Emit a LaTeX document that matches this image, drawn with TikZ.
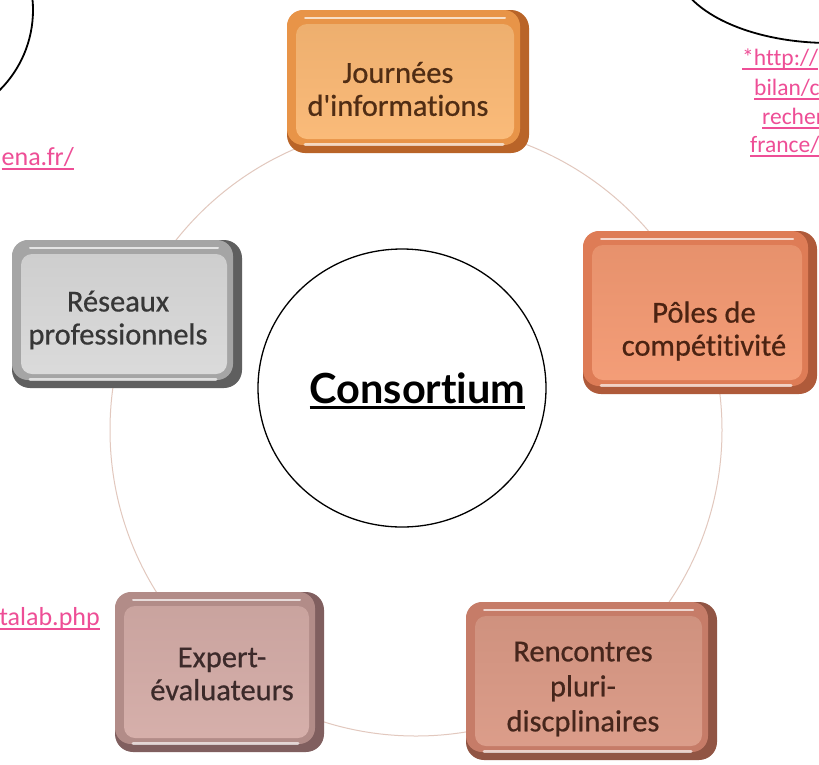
\documentclass[tikz,border=0pt]{standalone}
\usepackage{fontspec}
\setmainfont{Carlito}[Ligatures=NoCommon]
\newfontfamily\boxfont{Carlito}[Ligatures=NoCommon, FakeBold=0.6]
\newfontfamily\consfont{Lato}[Ligatures=NoCommon]
\usetikzlibrary{calc,fit,shapes.geometric}

\definecolor{linkc}{RGB}{238,78,150}
\definecolor{ringc}{RGB}{226,200,190}
% Journées
\definecolor{joudk}{RGB}{185,100,40}
\definecolor{joumd}{RGB}{232,148,72}
\definecolor{joufc}{RGB}{250,184,116}
\definecolor{joutx}{RGB}{80,45,20}
% Pôles
\definecolor{poldk}{RGB}{175,90,58}
\definecolor{polmd}{RGB}{222,124,86}
\definecolor{polfc}{RGB}{243,153,114}
\definecolor{poltx}{RGB}{75,35,18}
% Rencontres
\definecolor{rendk}{RGB}{145,85,68}
\definecolor{renmd}{RGB}{198,124,104}
\definecolor{renfc}{RGB}{218,153,133}
\definecolor{rentx}{RGB}{70,38,28}
% Expert
\definecolor{expdk}{RGB}{128,95,95}
\definecolor{expmd}{RGB}{178,140,136}
\definecolor{expfc}{RGB}{212,172,167}
\definecolor{exptx}{RGB}{60,42,42}
% Réseaux
\definecolor{resdk}{RGB}{95,95,95}
\definecolor{resmd}{RGB}{165,165,165}
\definecolor{resfc}{RGB}{217,217,217}
\definecolor{restx}{RGB}{55,55,55}

\newcommand\lnk[1]{\setbox0=\hbox{#1}\rlap{\rule[-4.5pt]{\wd0}{1.5pt}}\box0}
\newcommand\ulbig[1]{\setbox0=\hbox{#1}\rlap{\rule[-5.8pt]{\wd0}{2.7pt}}\box0}

\newcommand\bevelbox[6]{%
  \node[fit={(#2,#3) (#4,#5)}, inner sep=0pt, outer sep=0pt, rounded corners=18pt, fill=#6dk] (#1) {};
  \fill[#6md, rounded corners=16pt] (#1.north west) rectangle ($(#1.south east)+(-9,-8)$);
  \shade[top color=#6fc!95!black, bottom color=#6fc!96!white, rounded corners=11pt]
     ($(#1.north west)+(9,14)$) rectangle ($(#1.south east)+(-15,-14)$);
  \draw[white, opacity=.7, line width=2pt, line cap=round]
     ($(#1.north west)+(18,8)$) -- ($(#1.north east)+(-24,8)$);
  \draw[white, opacity=.65, line width=3pt, line cap=round]
     ($(#1.south west)+(18,-9)$) -- ($(#1.south east)+(-26,-9)$);
}

\tikzset{
  boxtxt/.style={font=\boxfont\fontsize{30.5}{33}\selectfont, align=center, inner sep=0pt},
  linktxt/.style={text=linkc, font=\fontsize{26}{29}\selectfont, inner sep=0pt, anchor=base west},
  linksmall/.style={linktxt, font=\fontsize{23.5}{29}\selectfont},
  ring/.style={draw=ringc, line width=1pt},
  outline/.style={draw=black, line width=1.8pt},
}

\begin{document}
\begin{tikzpicture}[x=1pt,y=-1pt]
\useasboundingbox (0,0) rectangle (819,764);
\clip (0,0) rectangle (819,764);
\fill[white] (0,0) rectangle (819,764);

% partial shapes at the corners
\draw[outline] (-80,10) circle[radius=113];
\draw[outline] (830,-37) ellipse[x radius=155, y radius=80];

% background ring
\draw[ring] (416,430) circle[radius=306];

% central hub
\node[draw=black, line width=1.3pt, ellipse, minimum width=288pt, minimum height=278pt, inner sep=0pt] (hub) at (402,388) {};
\node[font=\consfont\bfseries\fontsize{41.5}{41.5}\selectfont, anchor=base, inner sep=0pt] (cons) at (417.5,403) {\ulbig{Consortium}};

% boxes
\bevelbox{jour}{287}{10}{529}{153}{jou}
\bevelbox{pole}{583}{231}{817}{394}{pol}
\bevelbox{renc}{466}{602}{717}{760}{ren}
\bevelbox{expe}{115}{592}{324}{752}{exp}
\bevelbox{rese}{12}{240}{242}{388}{res}

\node[boxtxt, text=joutx] (jourt) at (398,89) {Journées\\d'informations};
\node[boxtxt, text=poltx] (polet) at (704,331) {Pôles de\\compétitivité};
\node[boxtxt, text=rentx, font=\boxfont\fontsize{30.5}{35}\selectfont] (renct) at (583,689) {Rencontres\\pluri-\\discplinaires};
\node[boxtxt, text=exptx] (expet) at (222,674) {Expert-\\évaluateurs};
\node[boxtxt, text=restx] (reset) at (118,320) {Réseaux\\professionnels};

% links
\node[linktxt, anchor=base east] (l1) at (74,165) {\lnk{ena.fr/}};
\node[linktxt, anchor=base east] (l2) at (100,625) {\lnk{talab.php}};
\node[linksmall] (l3) at (742,65) {\lnk{*http://}};
\node[linksmall] (l4) at (754,95) {\lnk{bilan/c}};
\node[linksmall] (l5) at (762,124) {\lnk{recher}};
\node[linksmall] (l6) at (750,152) {\lnk{france/}};
\end{tikzpicture}
\end{document}
